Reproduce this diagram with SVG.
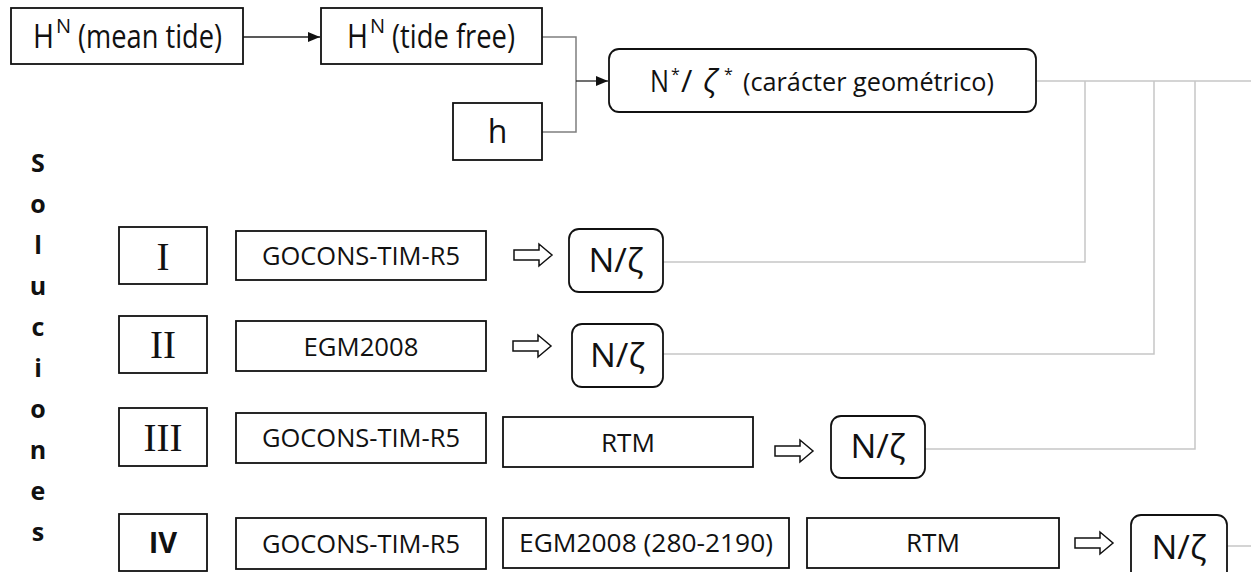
<svg xmlns="http://www.w3.org/2000/svg" width="1251" height="572" viewBox="0 0 1251 572">
<defs>
<style>
.box{fill:#fff;stroke:#111;stroke-width:1.8}
.t{font-family:"Open Sans","Liberation Sans",sans-serif;fill:#111}
.rom{font-family:"Liberation Serif",serif;fill:#111;font-size:39px}
.g{fill:none;stroke:#c6c6c6;stroke-width:1.5}
.blk{fill:#fff;stroke:#111;stroke-width:1.5}
</style>
<marker id="ah" viewBox="0 0 12 10" refX="12" refY="5" markerWidth="12" markerHeight="10" markerUnits="userSpaceOnUse" orient="auto">
<path d="M0,0 L12,5 L0,10 z" fill="#111"/>
</marker>
<path id="ba" d="M0,-5 H25 V-11 L38,0 L25,11 V5 H0 z"/>
</defs>

<g id="connectors">
<line x1="243" y1="37" x2="320" y2="37" stroke="#222" stroke-width="1.3" marker-end="url(#ah)"/>
<path d="M542,37 H576 V132 H542" fill="none" stroke="#7f7f7f" stroke-width="1.5"/>
<line x1="576" y1="81" x2="608" y2="81" stroke="#222" stroke-width="1.3" marker-end="url(#ah)"/>
<path class="g" d="M1036,81 H1251"/>
<path class="g" d="M1085,81 V262 H663"/>
<path class="g" d="M1154,81 V354 H663"/>
<path class="g" d="M1195,81 V449 H925"/>
<path class="g" d="M1227,546 H1251"/>
<use href="#ba" class="blk" x="514" y="255"/>
<use href="#ba" class="blk" x="513" y="346"/>
<use href="#ba" class="blk" x="775" y="451"/>
<use href="#ba" class="blk" x="1075" y="543"/>
</g>

<g id="hn-mean">
<rect class="box" x="11" y="8" width="232" height="56"/>
<text class="t" x="33" y="48" font-size="32" textLength="21" lengthAdjust="spacingAndGlyphs">H</text>
<text class="t" x="56" y="33" font-size="20">N</text>
<text class="t" x="78" y="48" font-size="32" textLength="144" lengthAdjust="spacingAndGlyphs">(mean tide)</text>
</g>
<g id="hn-free">
<rect class="box" x="321" y="8" width="221" height="56"/>
<text class="t" x="347" y="48" font-size="32" textLength="21" lengthAdjust="spacingAndGlyphs">H</text>
<text class="t" x="370" y="33" font-size="20">N</text>
<text class="t" x="392" y="48" font-size="32" textLength="123" lengthAdjust="spacingAndGlyphs">(tide free)</text>
</g>
<g id="h">
<rect class="box" x="453" y="103" width="89" height="57"/>
<text class="t" x="497.5" y="143" font-size="32" text-anchor="middle">h</text>
</g>
<g id="nstar">
<rect class="box" x="609" y="49" width="427" height="63" rx="10"/>
<text class="t" x="650" y="92" font-size="31" textLength="19" lengthAdjust="spacingAndGlyphs">N</text>
<text class="t" x="671" y="80" font-size="16">*</text>
<text class="t" x="681" y="92" font-size="31">/</text>
<text class="t" x="703" y="92" font-size="31" font-style="italic">ζ</text>
<text class="t" x="724" y="80" font-size="16">*</text>
<text class="t" x="743" y="91" font-size="26" textLength="251" lengthAdjust="spacingAndGlyphs">(carácter geométrico)</text>
</g>

<g id="soluciones" class="t" font-size="25" font-weight="bold" text-anchor="middle">
<text x="38" y="172">S</text>
<text x="38" y="213">o</text>
<text x="38" y="254">l</text>
<text x="38" y="295">u</text>
<text x="38" y="336">c</text>
<text x="38" y="377">i</text>
<text x="38" y="418">o</text>
<text x="38" y="459">n</text>
<text x="38" y="500">e</text>
<text x="38" y="541">s</text>
</g>

<g id="sol-I">
<rect class="box" x="119" y="227" width="88" height="57"/>
<text class="rom" x="163" y="270" text-anchor="middle">I</text>
</g>
<g id="gocons-I">
<rect class="box" x="236" y="231" width="250" height="49"/>
<text class="t" x="361" y="265" font-size="26" text-anchor="middle" textLength="198" lengthAdjust="spacingAndGlyphs">GOCONS-TIM-R5</text>
</g>
<g id="nz-I">
<rect class="box" x="569" y="229" width="94" height="63" rx="10"/>
<text class="t" x="616" y="272" font-size="32" text-anchor="middle" textLength="55" lengthAdjust="spacingAndGlyphs">N/ζ</text>
</g>

<g id="sol-II">
<rect class="box" x="119" y="316" width="88" height="57"/>
<text class="rom" x="163" y="358" text-anchor="middle">II</text>
</g>
<g id="egm-II">
<rect class="box" x="236" y="321" width="250" height="50"/>
<text class="t" x="361" y="356" font-size="26" text-anchor="middle" textLength="115" lengthAdjust="spacingAndGlyphs">EGM2008</text>
</g>
<g id="nz-II">
<rect class="box" x="572" y="324" width="91" height="63" rx="10"/>
<text class="t" x="617.5" y="367" font-size="32" text-anchor="middle" textLength="55" lengthAdjust="spacingAndGlyphs">N/ζ</text>
</g>

<g id="sol-III">
<rect class="box" x="119" y="408" width="88" height="58"/>
<text class="rom" x="163" y="451" text-anchor="middle">III</text>
</g>
<g id="gocons-III">
<rect class="box" x="236" y="413" width="250" height="50"/>
<text class="t" x="361" y="447" font-size="26" text-anchor="middle" textLength="198" lengthAdjust="spacingAndGlyphs">GOCONS-TIM-R5</text>
</g>
<g id="rtm-III">
<rect class="box" x="503" y="417" width="250" height="50"/>
<text class="t" x="628" y="452" font-size="26" text-anchor="middle" textLength="54" lengthAdjust="spacingAndGlyphs">RTM</text>
</g>
<g id="nz-III">
<rect class="box" x="831" y="416" width="94" height="62" rx="10"/>
<text class="t" x="878" y="458" font-size="32" text-anchor="middle" textLength="55" lengthAdjust="spacingAndGlyphs">N/ζ</text>
</g>

<g id="sol-IV">
<rect class="box" x="119" y="514" width="88" height="57"/>
<text class="t" x="163" y="553" font-size="29" font-weight="bold" text-anchor="middle">IV</text>
</g>
<g id="gocons-IV">
<rect class="box" x="236" y="518" width="250" height="51"/>
<text class="t" x="361" y="553" font-size="26" text-anchor="middle" textLength="198" lengthAdjust="spacingAndGlyphs">GOCONS-TIM-R5</text>
</g>
<g id="egm-IV">
<rect class="box" x="503" y="518" width="286" height="50"/>
<text class="t" x="646" y="552" font-size="26" text-anchor="middle" textLength="254" lengthAdjust="spacingAndGlyphs">EGM2008 (280-2190)</text>
</g>
<g id="rtm-IV">
<rect class="box" x="807" y="518" width="252" height="50"/>
<text class="t" x="933" y="552" font-size="26" text-anchor="middle" textLength="54" lengthAdjust="spacingAndGlyphs">RTM</text>
</g>
<g id="nz-IV">
<rect class="box" x="1131" y="515" width="96" height="66" rx="10"/>
<text class="t" x="1179" y="559" font-size="32" text-anchor="middle" textLength="55" lengthAdjust="spacingAndGlyphs">N/ζ</text>
</g>
</svg>
